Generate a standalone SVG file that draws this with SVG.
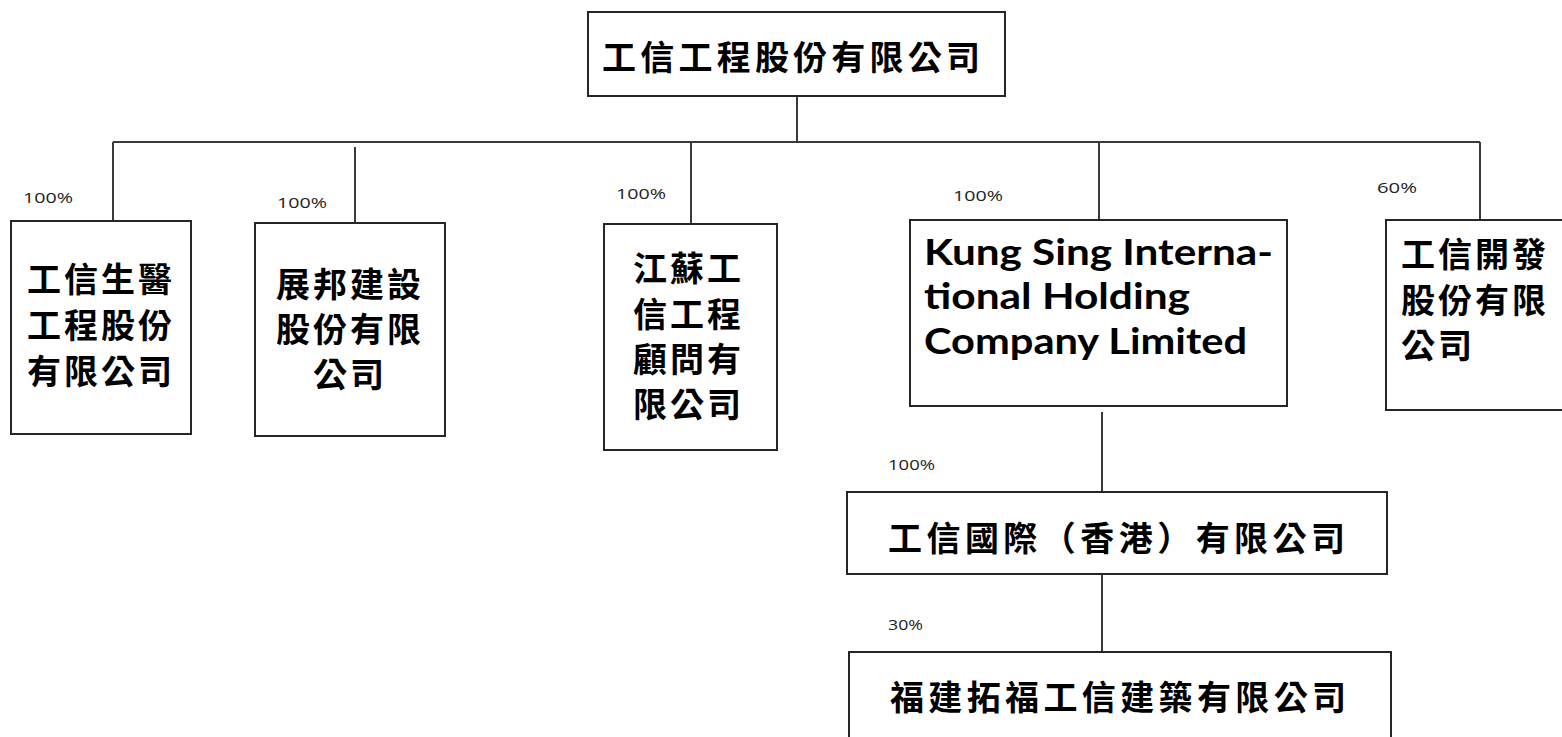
<svg xmlns="http://www.w3.org/2000/svg" width="1562" height="737" viewBox="0 0 1562 737">
<style>
.box{fill:#fff;stroke:#262626;stroke-width:2}
.ln{fill:none;stroke:#3a3a3a;stroke-width:2}
.cjk{font-family:"Noto Sans CJK TC","Noto Sans CJK SC",sans-serif;font-size:34px;font-weight:bold;fill:#000}
.en{font-family:Lato,"Open Sans",sans-serif;font-size:37px;font-weight:bold;fill:#000}
.pct{font-family:"Open Sans","DejaVu Sans",sans-serif;font-size:15px;fill:#222}
</style>
<rect width="1562" height="737" fill="#fff"/>
<g id="connectors">
<line class="ln" x1="797" y1="96" x2="797" y2="143"/>
<line class="ln" x1="113" y1="142" x2="1480" y2="142"/>
<line class="ln" x1="113" y1="142" x2="113" y2="221"/>
<line class="ln" x1="355" y1="147" x2="355" y2="223"/>
<line class="ln" x1="691" y1="142" x2="691" y2="224"/>
<line class="ln" x1="1099" y1="142" x2="1099" y2="220"/>
<line class="ln" x1="1480" y1="142" x2="1480" y2="220"/>
<line class="ln" x1="1102" y1="412" x2="1102" y2="492"/>
<line class="ln" x1="1102" y1="574" x2="1102" y2="652"/>
<text class="pct" x="23" y="203" textLength="50" lengthAdjust="spacingAndGlyphs">100%</text>
<text class="pct" x="277" y="208" textLength="50" lengthAdjust="spacingAndGlyphs">100%</text>
<text class="pct" x="616" y="199" textLength="50" lengthAdjust="spacingAndGlyphs">100%</text>
<text class="pct" x="953" y="201" textLength="50" lengthAdjust="spacingAndGlyphs">100%</text>
<text class="pct" x="1377" y="193" textLength="40" lengthAdjust="spacingAndGlyphs">60%</text>
<text class="pct" x="888" y="470" textLength="47" lengthAdjust="spacingAndGlyphs">100%</text>
<text class="pct" x="888" y="630" textLength="35" lengthAdjust="spacingAndGlyphs">30%</text>
</g>
<g id="n-root">
<rect class="box" x="588" y="12" width="417" height="84"/>
<text class="cjk" x="602" y="70" font-size="35" textLength="378" lengthAdjust="spacing">工信工程股份有限公司</text>
</g>
<g id="n-biomed">
<rect class="box" x="11" y="221" width="180" height="213"/>
<text class="cjk" x="27" y="292" letter-spacing="3">工信生醫</text>
<text class="cjk" x="27" y="338" letter-spacing="3">工程股份</text>
<text class="cjk" x="27" y="384" letter-spacing="3">有限公司</text>
</g>
<g id="n-zhanbang">
<rect class="box" x="255" y="223" width="190" height="213"/>
<text class="cjk" x="276" y="297" letter-spacing="3">展邦建設</text>
<text class="cjk" x="276" y="342" letter-spacing="3">股份有限</text>
<text class="cjk" x="313" y="387" letter-spacing="3">公司</text>
</g>
<g id="n-jiangsu">
<rect class="box" x="604" y="224" width="173" height="226"/>
<text class="cjk" x="633" y="281" letter-spacing="3">江蘇工</text>
<text class="cjk" x="633" y="327" letter-spacing="3">信工程</text>
<text class="cjk" x="633" y="372" letter-spacing="3">顧問有</text>
<text class="cjk" x="633" y="417" letter-spacing="3">限公司</text>
</g>
<g id="n-kungsing">
<rect class="box" x="910" y="220" width="377" height="186"/>
<text class="en" x="924" y="265" textLength="349" lengthAdjust="spacingAndGlyphs">Kung Sing Interna-</text>
<text class="en" x="924" y="309" textLength="266" lengthAdjust="spacingAndGlyphs">tional Holding</text>
<text class="en" x="924" y="354" textLength="323" lengthAdjust="spacingAndGlyphs">Company Limited</text>
</g>
<g id="n-develop">
<rect class="box" x="1386" y="220" width="190" height="190"/>
<text class="cjk" x="1401" y="267" letter-spacing="3">工信開發</text>
<text class="cjk" x="1401" y="313" letter-spacing="3">股份有限</text>
<text class="cjk" x="1401" y="358" letter-spacing="3">公司</text>
</g>
<g id="n-hk">
<rect class="box" x="847" y="492" width="540" height="82"/>
<text class="cjk" x="888" y="551" textLength="457" lengthAdjust="spacing">工信國際（香港）有限公司</text>
</g>
<g id="n-fujian">
<rect class="box" x="849" y="652" width="542" height="100"/>
<text class="cjk" x="890" y="710" textLength="456" lengthAdjust="spacing">福建拓福工信建築有限公司</text>
</g>
</svg>
